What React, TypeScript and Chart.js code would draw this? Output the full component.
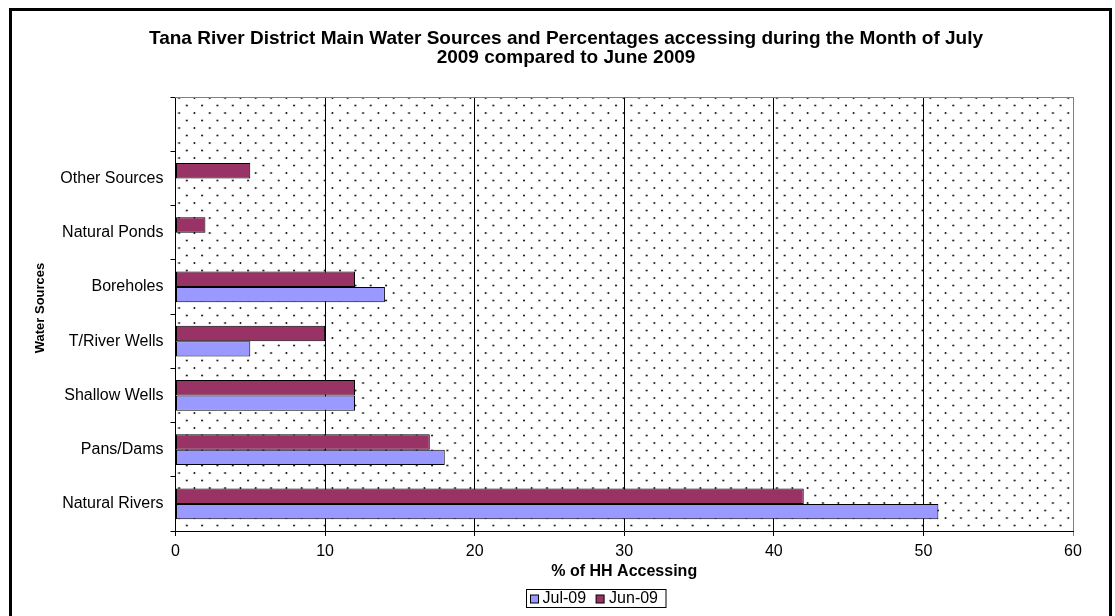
import React, { useEffect, useRef } from "react";
import { Chart, registerables } from "chart.js";

Chart.register(...registerables);

const FF = '"Liberation Sans", Arial, Helvetica, sans-serif';

const titleLines = [
  "Tana River District Main Water Sources and Percentages accessing during the Month of July",
  "2009 compared to June 2009",
];
const xAxisTitle = "% of HH Accessing";
const yAxisTitle = "Water Sources";

const categories = [
  "",
  "Other Sources",
  "Natural Ponds",
  "Boreholes",
  "T/River Wells",
  "Shallow Wells",
  "Pans/Dams",
  "Natural Rivers",
];
const jul09 = [null, null, null, 14, 5, 12, 18, 51];
const jun09 = [null, 5, 2, 12, 10, 12, 17, 42];
const seriesNames = ["Jul-09", "Jun-09"];
const seriesColors = ["#9999FF", "#993366"];
const xMin = 0;
const xMax = 60;
const xStep = 10;

function makePattern(ctx: CanvasRenderingContext2D) {
  const tile = document.createElement("canvas");
  tile.width = 15;
  tile.height = 15;
  const t = tile.getContext("2d")!;
  t.fillStyle = "#000";
  t.beginPath();
  t.arc(3.5, 1, 0.95, 0, Math.PI * 2);
  t.fill();
  t.beginPath();
  t.arc(11, 8.5, 0.95, 0, Math.PI * 2);
  t.fill();
  return ctx.createPattern(tile, "repeat")!;
}

const deco = {
  id: "deco",
  beforeDraw(chart: any) {
    const { ctx, chartArea: a } = chart;
    ctx.save();
    ctx.fillStyle = "#fff";
    ctx.fillRect(0, 0, chart.width, chart.height);
    const pat = makePattern(ctx);
    pat.setTransform(new DOMMatrix([15.33 / 15, 0, 0, 1, a.left, a.top]));
    ctx.fillStyle = pat;
    ctx.fillRect(a.left, a.top, a.right - a.left, a.bottom - a.top);
    ctx.restore();
  },
  beforeDatasetsDraw(chart: any) {
    const { ctx, chartArea: a } = chart;
    ctx.save();
    ctx.strokeStyle = "#808080";
    ctx.lineWidth = 1;
    ctx.beginPath();
    ctx.moveTo(Math.floor(a.left), Math.floor(a.top) + 0.5);
    ctx.lineTo(Math.floor(a.right) + 1, Math.floor(a.top) + 0.5);
    ctx.stroke();
    ctx.restore();
  },
  afterDraw(chart: any) {
    const { ctx, chartArea: a } = chart;
    ctx.save();
    // outer frame
    ctx.strokeStyle = "#000";
    ctx.lineWidth = 3;
    ctx.strokeRect(10.5, 9.5, 1100, 640);

    // title
    ctx.fillStyle = "#000";
    ctx.textAlign = "center";
    ctx.textBaseline = "middle";
    ctx.font = `bold 19px ${FF}`;
    ctx.fillText(titleLines[0], 566, 39);
    ctx.fillText(titleLines[1], 566, 58);

    // x title
    ctx.font = `bold 16px ${FF}`;
    ctx.fillText(xAxisTitle, (a.left + a.right) / 2, 572);

    // y title
    ctx.save();
    ctx.translate(40, 308);
    ctx.rotate(-Math.PI / 2);
    ctx.font = `bold 13px ${FF}`;
    ctx.fillText(yAxisTitle, 0, 0);
    ctx.restore();

    // legend
    ctx.font = `16px ${FF}`;
    const w1 = ctx.measureText(seriesNames[0]).width;
    const w2 = ctx.measureText(seriesNames[1]).width;
    const total = 4 + 8 + 4 + w1 + 10 + 8 + 5 + w2 + 8;
    const x0 = Math.round(595.5 - total / 2) + 0.5;
    const yTop = 589.5;
    const h = 18;
    ctx.lineWidth = 1;
    ctx.strokeStyle = "#000";
    ctx.strokeRect(x0, yTop, total, h);
    let x = x0 + 4;
    const sq = 8;
    const sy = Math.round(yTop + h / 2 - sq / 2);
    ctx.fillStyle = seriesColors[0];
    ctx.fillRect(x, sy, sq, sq);
    ctx.strokeRect(x, sy, sq, sq);
    x += sq + 4;
    ctx.fillStyle = "#000";
    ctx.textAlign = "left";
    ctx.fillText(seriesNames[0], x, yTop + h / 2 + 0.5);
    x += w1 + 10;
    ctx.fillStyle = seriesColors[1];
    ctx.fillRect(x, sy, sq, sq);
    ctx.strokeRect(x, sy, sq, sq);
    x += sq + 5;
    ctx.fillStyle = "#000";
    ctx.fillText(seriesNames[1], x, yTop + h / 2 + 0.5);
    ctx.restore();
  },
};

export default function App() {
  const ref = useRef<HTMLCanvasElement>(null);
  useEffect(() => {
    const canvas = ref.current!;
    Chart.defaults.font.family = FF;
    Chart.defaults.color = "#000";
    const chart = new Chart(canvas, {
      type: "bar",
      data: {
        labels: categories,
        datasets: [
          {
            label: seriesNames[1],
            data: jun09 as any,
            backgroundColor: seriesColors[1],
            borderColor: "#000",
            borderWidth: 1,
            borderSkipped: false,
            categoryPercentage: 0.57,
            barPercentage: 1,
          },
          {
            label: seriesNames[0],
            data: jul09 as any,
            backgroundColor: seriesColors[0],
            borderColor: "#000",
            borderWidth: 1,
            borderSkipped: false,
            categoryPercentage: 0.57,
            barPercentage: 1,
          },
        ],
      },
      options: {
        indexAxis: "y",
        animation: false,
        responsive: false,
        devicePixelRatio: 1,
        layout: { padding: { top: 97, left: 20, right: 42, bottom: 0 } },
        plugins: {
          legend: { display: false },
          title: { display: false },
          tooltip: { enabled: false },
        },
        scales: {
          x: {
            min: xMin,
            max: xMax,
            ticks: { stepSize: xStep, font: { size: 16 }, color: "#000", padding: 6 },
            grid: {
              color: (c: any) => (c.tick && c.tick.value === xMax ? "#808080" : "#000"),
              tickLength: 5,
              lineWidth: 1,
            },
            border: { color: "#000", width: 1 },
            afterFit: (s: any) => {
              s.height = 85;
            },
          },
          y: {
            ticks: { font: { size: 16 }, color: "#000", padding: 7 },
            grid: { drawOnChartArea: false, tickLength: 5, color: "#000", offset: true },
            border: { color: "#000", width: 1 },
            afterFit: (s: any) => {
              s.width = 155.5;
            },
          },
        },
      },
      plugins: [deco],
    } as any);
    return () => chart.destroy();
  }, []);
  return (
    <div style={{ position: "fixed", left: 0, top: 0, width: 1115, height: 616, background: "#fff" }}>
      <canvas ref={ref} width={1115} height={616} style={{ display: "block", width: 1115, height: 616 }} />
    </div>
  );
}
